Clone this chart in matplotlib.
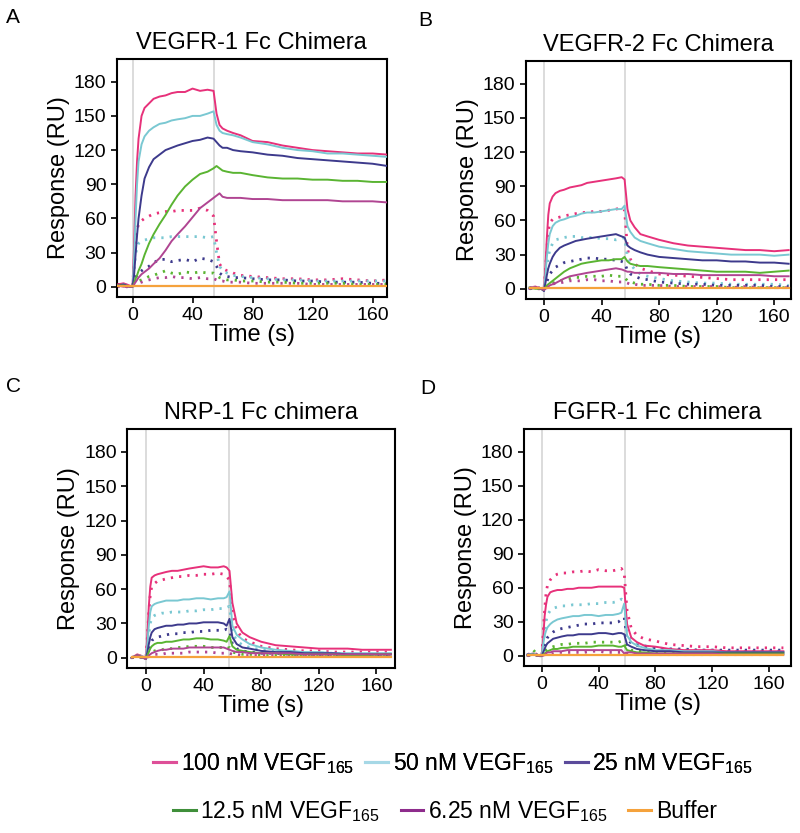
import matplotlib
matplotlib.use("Agg")
import matplotlib.pyplot as plt
from matplotlib.lines import Line2D

plt.rcParams['font.family'] = ['Liberation Sans', 'DejaVu Sans']
plt.rcParams['mathtext.fontset'] = 'custom'
plt.rcParams['mathtext.rm'] = 'Liberation Sans'

# time (s) shared by all sensorgrams
t = [-10, -6, -2, 0, 1, 2, 3, 4, 6, 8, 11, 14, 18, 22, 26, 30, 35, 40, 45, 50,
     54, 56, 58, 60, 63, 67, 72, 80, 90, 100, 110, 120, 130, 140, 150, 160, 170]

labels = ["100 nM VEGF$_{165}$", "50 nM VEGF$_{165}$", "25 nM VEGF$_{165}$",
          "12.5 nM VEGF$_{165}$", "6.25 nM VEGF$_{165}$", "Buffer"]
titles = ["VEGFR-1 Fc Chimera", "VEGFR-2 Fc Chimera", "NRP-1 Fc chimera", "FGFR-1 Fc chimera"]
letters = ["A", "B", "C", "D"]
inject_end = [54.5, 56.5, 57.6, 58.8]

# panel A - VEGFR-1
A_100 = [2, 3, 1, 0, 35, 80, 110, 130, 150, 157, 161, 165, 167, 168, 170, 171, 171, 174, 172, 173,
         172, 152, 142, 139, 137, 135, 133, 128, 127, 124, 122, 120, 119, 118, 117, 117, 116]
A_50 = [1, 2, 0, 0, 25, 60, 90, 110, 125, 132, 137, 140, 143, 144, 146, 147, 148, 150, 150, 152,
        154, 142, 137, 135, 134, 133, 131, 127, 125, 122, 120, 119, 117, 117, 116, 115, 114]
A_25 = [1, 2, 0, 0, 10, 28, 45, 60, 80, 95, 105, 112, 116, 120, 122, 124, 126, 128, 129, 131,
        130, 127, 124, 122, 122, 120, 119, 118, 116, 115, 113, 112, 111, 110, 109, 108, 106]
A_12 = [1, 1, 0, 0, 3, 7, 10, 14, 20, 28, 38, 46, 55, 63, 72, 80, 88, 94, 99, 101,
        104, 106, 104, 102, 101, 100, 100, 98, 96, 95, 95, 94, 94, 93, 93, 92, 92]
A_6 = [1, 0, 0, 0, 2, 4, 6, 8, 11, 13, 16, 20, 25, 32, 40, 46, 53, 61, 69, 74,
       78, 80, 82, 79, 78, 78, 78, 77, 77, 76, 76, 76, 76, 75, 75, 75, 74]
A_100d = [2, 1, 0, 0, 20, 40, 50, 55, 58, 60, 62, 64, 65, 66, 66, 67, 67, 67, 69, 67,
          62, 40, 20, 16, 14, 12, 10, 9, 8, 7, 7, 6, 6, 7, 6, 5, 6]
A_50d = [1, 2, 1, 0, 15, 28, 35, 38, 40, 41, 42, 43, 43, 43, 44, 44, 44, 44, 44, 43,
         44, 30, 18, 14, 12, 10, 9, 8, 7, 6, 6, 5, 5, 5, 5, 5, 5]
A_25d = [2, 1, 0, 0, 5, 8, 10, 12, 14, 16, 18, 21, 24, 24, 22, 23, 24, 22, 25, 24,
         22, 18, 12, 10, 9, 8, 8, 7, 6, 6, 5, 5, 4, 4, 4, 3, 3]
A_12d = [1, 2, 0, 0, 2, 3, 4, 5, 6, 7, 9, 10, 12, 14, 12, 11, 13, 12, 13, 12,
         12, 10, 8, 7, 6, 6, 5, 5, 4, 4, 3, 3, 3, 3, 2, 2, 2]
A_6d = [0, 1, -1, 0, 1, 2, 2, 3, 4, 5, 6, 7, 8, 8, 9, 8, 8, 7, 8, 7,
        7, 6, 5, 5, 4, 4, 4, 3, 3, 3, 3, 2, 2, 2, 2, 2, 2]

# panel B - VEGFR-2
B_100 = [1, 2, 0, -1, 20, 45, 65, 75, 81, 84, 86, 87, 89, 90, 91, 93, 94, 95, 96, 97,
         98, 96, 70, 60, 54, 48, 46, 43, 40, 38, 37, 36, 35, 34, 34, 33, 34]
B_50 = [1, 1, 0, -1, 12, 28, 40, 48, 55, 58, 60, 61, 63, 64, 66, 67, 67, 68, 69, 70,
        70, 73, 55, 50, 45, 42, 40, 37, 35, 33, 32, 31, 30, 30, 30, 29, 30]
B_25 = [0, 1, 0, -2, 5, 12, 18, 22, 28, 32, 36, 38, 40, 42, 43, 44, 45, 46, 47, 48,
        46, 45, 38, 36, 34, 32, 30, 28, 27, 26, 25, 25, 24, 24, 23, 23, 22]
B_12 = [1, 0, 0, -1, 1, 3, 4, 5, 7, 9, 12, 15, 18, 20, 22, 23, 24, 25, 25, 26,
        26, 28, 24, 22, 21, 20, 20, 19, 18, 17, 16, 15, 15, 15, 14, 15, 16]
B_6 = [0, 1, 0, -1, 0, 1, 2, 3, 4, 5, 7, 9, 11, 12, 13, 14, 15, 16, 17, 18,
       17, 16, 15, 15, 14, 14, 14, 14, 13, 13, 12, 12, 12, 12, 12, 11, 11]
B_100d = [1, 0, 1, 0, 15, 35, 50, 58, 61, 62, 63, 64, 65, 66, 67, 67, 68, 68, 69, 70,
          71, 69, 35, 26, 22, 18, 16, 13, 12, 11, 10, 9, 8, 8, 8, 8, 8]
B_50d = [0, 1, 0, 0, 8, 18, 28, 34, 40, 43, 44, 45, 46, 46, 45, 45, 45, 44, 44, 43,
         44, 45, 28, 22, 17, 13, 11, 9, 7, 6, 5, 5, 4, 4, 4, 4, 3]
B_25d = [1, 0, 1, -1, 3, 6, 10, 13, 16, 19, 21, 23, 24, 25, 26, 27, 27, 26, 26, 25,
         24, 23, 16, 13, 11, 9, 8, 6, 5, 4, 4, 3, 3, 3, 3, 2, 2]
B_12d = [0, 1, 0, 0, 1, 2, 3, 4, 5, 6, 7, 8, 9, 10, 10, 11, 11, 11, 12, 11,
         11, 10, 7, 6, 5, 4, 4, 3, 3, 2, 2, 2, 1, 1, 1, 1, 1]
B_6d = [1, 0, 0, 0, 0, 1, 2, 3, 4, 5, 5, 6, 7, 7, 7, 8, 8, 7, 7, 6,
        6, 6, 5, 4, 4, 3, 3, 3, 2, 2, 2, 2, 1, 2, 1, 1, 1]

# panel C - NRP-1
C_100 = [0, 3, 1, -1, 20, 45, 62, 70, 72, 73, 74, 75, 76, 76, 77, 78, 79, 80, 79, 79,
         80, 79, 76, 48, 30, 22, 18, 14, 11, 10, 9, 8, 8, 8, 7, 7, 7]
C_50 = [0, 2, 1, -1, 12, 28, 40, 45, 47, 48, 49, 50, 50, 50, 51, 51, 52, 52, 51, 52,
        52, 53, 58, 28, 20, 16, 12, 9, 7, 6, 5, 5, 4, 4, 4, 4, 4]
C_25 = [0, 2, 0, -1, 5, 12, 18, 22, 25, 26, 27, 28, 28, 29, 29, 30, 30, 31, 31, 31,
        30, 28, 34, 18, 12, 9, 8, 6, 5, 5, 4, 4, 4, 3, 3, 3, 3]
C_12 = [0, 2, 0, -1, 2, 5, 8, 10, 12, 13, 13, 14, 14, 15, 16, 16, 17, 17, 16, 16,
        15, 14, 19, 10, 7, 6, 5, 4, 4, 3, 3, 3, 3, 2, 2, 3, 3]
C_6 = [0, 2, 0, -1, 1, 2, 3, 4, 5, 6, 7, 7, 8, 8, 8, 9, 9, 9, 9, 9,
       9, 8, 7, 6, 5, 5, 4, 4, 4, 4, 3, 3, 3, 3, 3, 3, 3]
C_100d = [0, 2, 1, 0, 18, 40, 55, 62, 65, 67, 68, 69, 70, 71, 71, 72, 72, 73, 73, 74,
          73, 71, 68, 38, 24, 17, 14, 10, 8, 7, 6, 6, 5, 5, 5, 5, 5]
C_50d = [0, 2, 1, 0, 8, 20, 30, 35, 37, 38, 39, 39, 40, 40, 40, 41, 41, 42, 42, 43,
         43, 44, 45, 22, 15, 11, 9, 7, 6, 5, 4, 4, 4, 3, 3, 3, 3]
C_25d = [0, 2, 0, 0, 3, 8, 12, 15, 17, 18, 19, 20, 21, 21, 22, 22, 23, 23, 24, 24,
         24, 25, 24, 12, 8, 6, 5, 4, 4, 3, 3, 3, 2, 2, 2, 2, 2]
C_12d = [0, 1, 0, 0, 1, 3, 4, 5, 6, 7, 7, 8, 8, 9, 9, 10, 10, 10, 9, 9,
         9, 8, 9, 5, 4, 3, 3, 2, 2, 2, 2, 1, 1, 1, 1, 1, 1]
C_6d = [0, 1, 0, 0, 0, 1, 2, 2, 3, 3, 3, 4, 4, 4, 4, 5, 5, 5, 5, 4,
        4, 4, 4, 3, 3, 2, 2, 2, 2, 2, 2, 2, 1, 1, 1, 1, 1]

# panel D - FGFR-1
D_100 = [1, 2, 0, 0, 15, 35, 45, 52, 56, 57, 58, 58, 59, 59, 60, 60, 60, 61, 61, 61,
         61, 61, 60, 28, 16, 12, 9, 8, 6, 5, 5, 5, 4, 4, 4, 4, 4]
D_50 = [1, 2, 0, 0, 10, 18, 22, 25, 28, 30, 32, 33, 34, 35, 35, 36, 36, 35, 36, 36,
        37, 38, 46, 18, 12, 9, 7, 5, 5, 4, 4, 4, 3, 3, 3, 3, 3]
D_25 = [1, 1, 0, 0, 3, 6, 9, 11, 13, 15, 16, 17, 18, 18, 19, 19, 19, 20, 20, 19,
        20, 20, 19, 10, 8, 6, 5, 4, 4, 3, 3, 3, 3, 3, 3, 3, 3]
D_12 = [0, 1, 0, 0, 1, 2, 3, 4, 5, 6, 6, 7, 7, 8, 8, 8, 8, 9, 9, 9,
        8, 8, 9, 5, 4, 3, 3, 2, 2, 2, 2, 2, 2, 2, 2, 2, 2]
D_6 = [0, 1, 0, 0, 0, 1, 2, 3, 3, 4, 4, 4, 5, 5, 5, 5, 5, 5, 5, 5,
       5, 5, 2, 3, 3, 2, 2, 2, 2, 2, 2, 2, 1, 1, 1, 1, 1]
D_100d = [1, 3, 0, 0, 20, 40, 55, 62, 67, 70, 72, 73, 73, 74, 74, 75, 74, 76, 75, 75,
          76, 77, 73, 40, 24, 18, 15, 13, 10, 9, 8, 8, 7, 7, 7, 7, 7]
D_50d = [1, 2, 0, 0, 8, 20, 30, 36, 40, 42, 43, 44, 44, 45, 45, 45, 46, 46, 47, 47,
         48, 50, 48, 22, 15, 11, 9, 7, 6, 5, 5, 5, 4, 4, 4, 4, 4]
D_25d = [0, 2, 0, 0, 4, 9, 13, 16, 19, 21, 23, 24, 25, 26, 27, 28, 28, 29, 29, 29,
         30, 32, 34, 15, 11, 9, 8, 7, 6, 6, 5, 5, 5, 5, 5, 5, 5]
D_12d = [0, 5, 0, 0, 2, 4, 5, 6, 7, 8, 9, 10, 10, 11, 11, 11, 12, 12, 12, 12,
         12, 13, 12, 7, 5, 4, 4, 3, 3, 3, 3, 2, 2, 2, 2, 2, 2]
D_6d = [0, 1, 0, 0, 0, 1, 1, 2, 2, 2, 3, 3, 3, 3, 3, 3, 4, 4, 3, 3,
        3, 3, 3, 2, 2, 2, 2, 1, 1, 1, 1, 1, 1, 1, 1, 1, 1]

buffer = [1, 1, 1, 1, 1, 1, 1, 1, 1, 1, 1, 1, 1, 1, 1, 1, 1, 1, 1, 1,
          1, 1, 1, 1, 1, 1, 1, 1, 1, 1, 1, 1, 1, 1, 1, 1, 1]

solid = [[A_100, A_50, A_25, A_12, A_6], [B_100, B_50, B_25, B_12, B_6],
         [C_100, C_50, C_25, C_12, C_6], [D_100, D_50, D_25, D_12, D_6]]
dotted = [[A_100d, A_50d, A_25d, A_12d, A_6d], [B_100d, B_50d, B_25d, B_12d, B_6d],
          [C_100d, C_50d, C_25d, C_12d, C_6d], [D_100d, D_50d, D_25d, D_12d, D_6d]]

line_colors = ['#e7317a', '#7ac8d2', '#3d3a8c', '#5ab432', '#b04592', '#f5a23c']
legend_colors = ['#de4f98', '#a6d8e6', '#5b4b9b', '#3f8f3a', '#8e2c8c', '#f5a23c']

fig = plt.figure(figsize=(8, 8.33), dpi=100)
positions = [[0.146, 0.6435, 0.3375, 0.2857],
             [0.6575, 0.641, 0.331, 0.2857],
             [0.159, 0.198, 0.335, 0.287],
             [0.655, 0.2005, 0.334, 0.2845]]
xlims = [(-10.5, 169.5), (-12.5, 171.5), (-13, 173), (-12.5, 175.5)]
letter_pos = [(0.008, 0.99), (0.523, 0.987), (0.008, 0.548), (0.525, 0.545)]

for i in range(4):
    ax = fig.add_axes(positions[i])
    ax.axvline(0, color='#d9d9d9', lw=1.3, zorder=1)
    ax.axvline(inject_end[i], color='#d9d9d9', lw=1.3, zorder=1)
    for k in range(5):
        ax.plot(t, dotted[i][k], color=line_colors[k], lw=2.0,
                linestyle=(0, (0.8, 2.2)), zorder=2)
    for k in range(5):
        ax.plot(t, solid[i][k], color=line_colors[k], lw=1.4, zorder=3)
    ax.plot(t, buffer, color=line_colors[5], lw=1.6, zorder=4)
    ax.set_xlim(*xlims[i])
    ax.set_ylim(-9, 200)
    ax.set_xticks([0, 40, 80, 120, 160])
    ax.set_yticks([0, 30, 60, 90, 120, 150, 180])
    ax.tick_params(labelsize=14, length=4.5, width=1.2, pad=3)
    for s in ax.spines.values():
        s.set_linewidth(1.5)
    ax.set_title(titles[i], fontsize=17, pad=7)
    ax.set_xlabel("Time (s)", fontsize=17, labelpad=0)
    ax.set_ylabel("Response (RU)", fontsize=17, labelpad=3)
    fig.text(letter_pos[i][0], letter_pos[i][1], letters[i], fontsize=15, va='top', ha='left')

handles = [Line2D([], [], color=c, lw=2.2) for c in legend_colors]
leg1 = fig.legend(handles[:3], labels[:3], loc='center', bbox_to_anchor=(0.566, 0.083),
                  ncol=3, frameon=False, fontsize=16.5, handlelength=1.0, handletextpad=0.2,
                  columnspacing=0.5)
fig.add_artist(leg1)
fig.legend(handles[3:], labels[3:], loc='center', bbox_to_anchor=(0.556, 0.026),
           ncol=3, frameon=False, fontsize=16.5, handlelength=1.0, handletextpad=0.2,
           columnspacing=0.9)

fig.savefig("out.png", dpi=100)
